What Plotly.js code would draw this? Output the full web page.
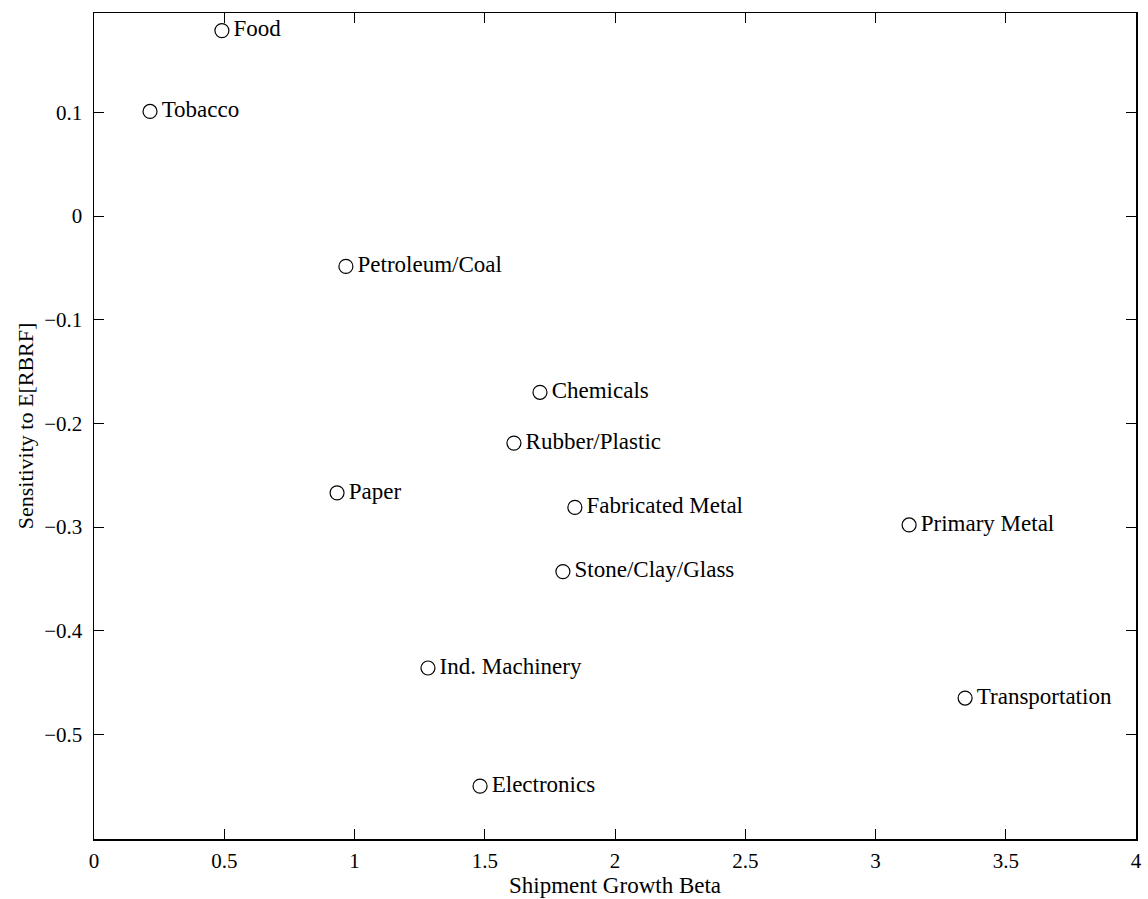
<!DOCTYPE html>
<html>
<head>
<meta charset="utf-8">
<script src="https://cdn.plot.ly/plotly-3.0.1.min.js"></script>
<style>html,body{margin:0;padding:0;background:#fff;}#chart{width:1148px;height:899px;}</style>
</head>
<body>
<div id="chart"></div>
<script>
const industries = ["Food","Tobacco","Petroleum/Coal","Chemicals","Rubber/Plastic","Paper","Fabricated Metal","Primary Metal","Stone/Clay/Glass","Ind. Machinery","Transportation","Electronics"];
const shipmentBeta = [0.491,0.215,0.967,1.712,1.612,0.933,1.846,3.129,1.800,1.282,3.344,1.482];
const sensitivity = [0.179,0.101,-0.0485,-0.170,-0.219,-0.267,-0.281,-0.298,-0.343,-0.436,-0.465,-0.550];
const xTicks = [0,0.5,1,1.5,2,2.5,3,3.5,4];
const yTicks = [-0.5,-0.4,-0.3,-0.2,-0.1,0,0.1];

const fontFam = "Liberation Serif, Times New Roman, serif";
const trace = {
  x: shipmentBeta, y: sensitivity, text: industries.map(s => "\u200A" + s),
  mode: "markers+text", type: "scatter",
  textposition: "middle right",
  textfont: {family: fontFam, size: 23, color: "#000"},
  marker: {symbol: "circle-open", size: 14, color: "#000", line: {width: 1.2, color: "#000"}},
  cliponaxis: false, hoverinfo: "none"
};
const axisCommon = {
  showgrid: false, zeroline: false, showline: true, mirror: "ticks",
  linecolor: "#000", linewidth: 1.5, ticks: "inside", ticklen: 10, tickwidth: 1, tickcolor: "#000",
  tickfont: {family: fontFam, size: 21, color: "#000"}
};
const layout = {
  width: 1148, height: 899,
  margin: {l: 94, r: 12, t: 13, b: 60},
  paper_bgcolor: "#fff", plot_bgcolor: "#fff",
  showlegend: false,
  xaxis: Object.assign({}, axisCommon, {
    range: [0, 4], tickvals: xTicks, ticktext: xTicks.map(String),
    ticklabelstandoff: 2,
    title: {text: "Shipment Growth Beta", font: {family: fontFam, size: 23, color: "#000"}, standoff: 0}
  }),
  yaxis: Object.assign({}, axisCommon, {
    range: [-0.601, 0.196], tickvals: yTicks, ticktext: yTicks.map(v => v < 0 ? "\u2212" + Math.abs(v) : String(v)),
    ticklabelstandoff: 6,
    title: {text: "Sensitivity to E[RBRF]", font: {family: fontFam, size: 22, color: "#000"}, standoff: 4}
  })
};
Plotly.newPlot("chart", [trace], layout, {displayModeBar: false, staticPlot: true});
</script>
</body>
</html>
